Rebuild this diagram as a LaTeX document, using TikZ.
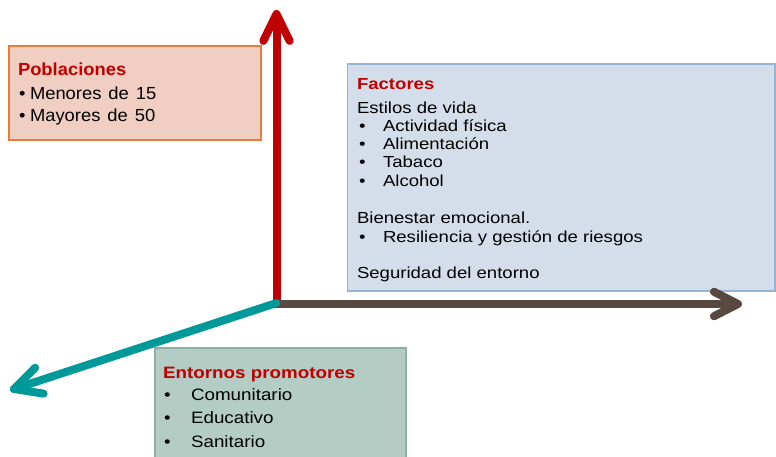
\documentclass[tikz,border=0pt]{standalone}
\usepackage{fontspec}
\setmainfont{Liberation Sans}
\newfontfamily\fA{Liberation Sans}[FakeStretch=1.05]
\newfontfamily\fB{Liberation Sans}[FakeStretch=1.16]
\newfontfamily\fC{Liberation Sans}[FakeStretch=1.14]
\usetikzlibrary{calc}
\definecolor{titred}{RGB}{192,0,0}
\definecolor{pobfill}{RGB}{241,206,194}
\definecolor{pobline}{RGB}{226,126,62}
\definecolor{facfill}{RGB}{212,222,234}
\definecolor{facline}{RGB}{150,180,212}
\definecolor{entfill}{RGB}{179,205,197}
\definecolor{entline}{RGB}{140,176,165}
\definecolor{axred}{RGB}{192,0,0}
\definecolor{axbrown}{RGB}{88,72,64}
\definecolor{axteal}{RGB}{0,153,153}
\tikzset{
  txt/.style={anchor=base west, inner sep=0pt, outer sep=0pt},
  boxA/.style={fill=pobfill, draw=pobline, line width=1.5pt},
  boxB/.style={fill=facfill, draw=facline, line width=1.5pt},
  boxC/.style={fill=entfill, draw=entline, line width=1.5pt},
  axis/.style={line width=8pt, line cap=butt},
  headline/.style={line width=8pt, line cap=round, line join=round},
}
\begin{document}
\begin{tikzpicture}[x=1pt,y=-1pt]
\useasboundingbox (0,0) rectangle (776,457);
% boxes
\fill[white] (0,0) rectangle (776,457);
\draw[boxA] (9,46) rectangle (261,140);
\draw[boxB] (347.5,64) rectangle (775,291);
\begin{scope}
\clip (0,0) rectangle (776,457);
\draw[boxC] (155,348) rectangle (406,470);
\end{scope}
% Poblaciones text
\begin{scope}[every node/.style={txt, font=\fA\fontsize{17.5}{21}\selectfont}]
\node (p0) at (18,76) {\textcolor{titred}{\bfseries Poblaciones}};
\node (p1b) at (19,100) {•};
\node (p1) at (30,100) {Menores\hspace{7pt}de\hspace{7pt}15};
\node (p2b) at (19,122) {•};
\node (p2) at (30,122) {Mayores\hspace{7pt}de\hspace{7pt}50};
\end{scope}
% Factores text
\begin{scope}[every node/.style={txt, font=\fB\fontsize{16}{18}\selectfont}]
\node (f0) at (357,90) {\textcolor{titred}{\bfseries Factores}};
\node (f1) at (357,114) {Estilos de vida};
\node (f2b) at (359,132) {•};
\node (f2) at (383,132) {Actividad\ física};
\node (f3b) at (359,150) {•};
\node (f3) at (383,150) {Alimentación};
\node (f4b) at (359,168) {•};
\node (f4) at (383,168) {Tabaco};
\node (f5b) at (359,187) {•};
\node (f5) at (383,187) {Alcohol};
\node (f6) at (357,223) {Bienestar\ emocional.};
\node (f7b) at (359,242) {•};
\node (f7) at (383,242) {Resiliencia\ y\ gestión\ de\ riesgos};
\node (f8) at (357,278) {Seguridad\ del\ entorno};
\end{scope}
% Entornos text
\begin{scope}[every node/.style={txt, font=\fC\fontsize{16.5}{22}\selectfont}]
\node (e0) at (163,378) {\textcolor{titred}{\bfseries Entornos promotores}};
\node (e1b) at (164,400) {•};
\node (e1) at (191,400) {Comunitario};
\node (e2b) at (164,423) {•};
\node (e2) at (191,423) {Educativo};
\node (e3b) at (164,447) {•};
\node (e3) at (191,447) {Sanitario};
\end{scope}
% axes
\coordinate (O) at (276.5,303);
\coordinate (Ob) at (272.5,304);
\coordinate (tipN) at (276.5,14);
\coordinate (tipE) at (738,304);
\coordinate (tipW) at (14,389);
% red vertical
\draw[axis, axred] (O) -- (tipN);
\draw[headline, axred] ($(tipN)!30pt!-26:(O)$) -- (tipN) -- ($(tipN)!30pt!26:(O)$);
% brown horizontal
\draw[axis, axbrown] (Ob) -- (tipE);
\draw[headline, axbrown] ($(tipE)!27pt!-27:(Ob)$) -- (tipE) -- ($(tipE)!27pt!27:(Ob)$);
% teal diagonal
\draw[axis, axteal, line cap=round] (O) -- (tipW);
\draw[headline, axteal] ($(tipW)!30pt!-27:(O)$) -- (tipW) -- ($(tipW)!30pt!27:(O)$);
\end{tikzpicture}
\end{document}
